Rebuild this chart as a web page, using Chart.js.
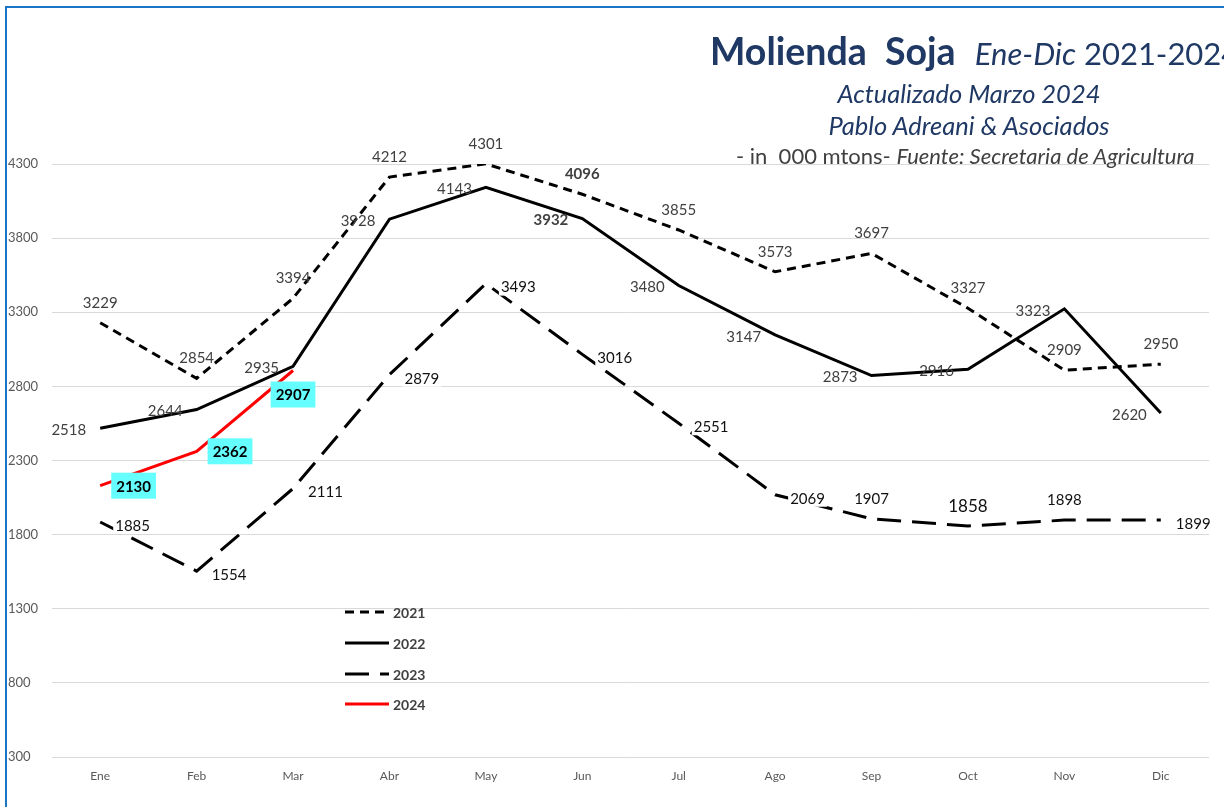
<!DOCTYPE html>
<html><head><meta charset="utf-8">
<script src="https://cdn.jsdelivr.net/npm/chart.js@4.4.1/dist/chart.umd.min.js"></script>
<style>
html,body{margin:0;padding:0;width:1224px;height:807px;overflow:hidden;background:#fff;font-family:Lato,sans-serif}
#wrap{position:relative;width:1224px;height:807px;overflow:hidden}
#c{position:absolute;left:0;top:0}
#frame{position:absolute;left:5px;top:6px;width:1240px;height:820px;border-left:2px solid #1b75c6;border-top:2px solid #1b75c6;pointer-events:none}
.t{position:absolute;white-space:nowrap;color:#1f3864}
</style></head><body>
<div id="wrap">
<canvas id="c" width="1224" height="807"></canvas>
<div id="frame"></div>
<div class="t" style="left:710px;top:26px;font-size:37.5px;line-height:50px"><b>Molienda&nbsp; Soja</b>&nbsp; <span style="font-size:31px"><i>Ene-Dic</i> 2021-2024</span></div>
<div class="t" style="left:719px;width:500px;text-align:center;top:77px;font-size:25.5px;line-height:32px;font-style:italic">Actualizado Marzo 2024</div>
<div class="t" style="left:719px;width:500px;text-align:center;top:109px;font-size:25.5px;line-height:32px;font-style:italic">Pablo Adreani &amp; Asociados</div>
<div class="t" style="left:736px;top:142px;font-size:22px;line-height:28px;color:#404040">- in&nbsp; 000 mtons- <i>Fuente: Secretaria de Agricultura</i></div>
</div>
<script>
// ---- data ----
const months = ['Ene','Feb','Mar','Abr','May','Jun','Jul','Ago','Sep','Oct','Nov','Dic'];
const y2021 = [3229,2854,3394,4212,4301,4096,3855,3573,3697,3327,2909,2950];
const y2022 = [2518,2644,2935,3928,4143,3932,3480,3147,2873,2916,3323,2620];
const y2023 = [1885,1554,2111,2879,3493,3016,2551,2069,1907,1858,1898,1899];
const y2024 = [2130,2362,2907];
const seriesNames = ['2021','2022','2023','2024'];
const yMin = 300, yMax = 4300, yStep = 500;

// ---- label styling (positions relative to points) ----
const pos2021 = ['above','above','above','above','above','above','above','above','above','above','above','above'];
const pos2022 = ['left','left','left','left','left','left','left','left','left','left','left','left'];
const pos2023 = ['right','right','right','right','right','right','right','right','above','above','above','right'];
const pos2024 = ['right','right','below'];
const bold2021 = [0,0,0,0,0,1,0,0,0,0,0,0];
const bold2022 = [0,0,0,0,0,1,0,0,0,0,0,0];
const size2023 = [15,15,15,15,15,15,15,15,15,17,15,15];

const labelCfg = [
  {pos:pos2021, bold:bold2021, color:'#404040', size:()=>15, bg:null},
  {pos:pos2022, bold:bold2022, color:'#404040', size:()=>15, bg:null},
  {pos:pos2023, bold:null, color:'#111111', size:(j)=>size2023[j], bg:'#ffffff'},
  {pos:pos2024, bold:[1,1,1], color:'#000000', size:()=>15, bg:'#66ffff', box:true}
];

const labelPlugin = {
  id:'vlabels',
  afterDatasetsDraw(chart){
    const ctx = chart.ctx;
    ctx.save();
    chart.data.datasets.forEach((ds,i)=>{
      const meta = chart.getDatasetMeta(i);
      const cfg = labelCfg[i];
      meta.data.forEach((pt,j)=>{
        const v = ds.data[j]; if(v==null) return;
        const txt = String(v);
        const b = cfg.bold && cfg.bold[j];
        const sz = cfg.size(j);
        ctx.font = (b?'bold ':'') + sz + 'px Lato';
        const tw = ctx.measureText(txt).width;
        let cx, cy; const p = cfg.pos[j];
        if(cfg.box){
          const w = tw+10, h = 26;
          if(p==='right'){ cx = pt.x+11+w/2; cy = pt.y; }
          else { cx = pt.x; cy = pt.y+24; }
          ctx.fillStyle = cfg.bg;
          ctx.fillRect(cx-w/2, cy-h/2, w, h);
        } else {
          if(p==='above'){ cx = pt.x; cy = pt.y-21; }
          else if(p==='left'){ cx = pt.x-14-tw/2; cy = pt.y+1; }
          else if(p==='right'){ cx = pt.x+15+tw/2; cy = pt.y+3; }
          if(cfg.bg){
            ctx.fillStyle = cfg.bg;
            ctx.fillRect(cx-tw/2-2, cy-sz*0.6, tw+4, sz*1.2);
          }
        }
        ctx.fillStyle = cfg.color;
        ctx.textAlign = 'center';
        ctx.textBaseline = 'middle';
        ctx.fillText(txt, cx, cy+1);
      });
    });
    ctx.restore();
  }
};

const legendX = 345, legendLen = 44, legendRows = [612,643,674,704];
const legendPlugin = {
  id:'floatLegend',
  afterDraw(chart){
    const ctx = chart.ctx;
    ctx.save();
    chart.data.datasets.forEach((ds,i)=>{
      const y = legendRows[i];
      ctx.strokeStyle = ds.borderColor;
      ctx.lineWidth = ds.borderWidth;
      ctx.setLineDash(ds.borderDash || []);
      ctx.beginPath(); ctx.moveTo(legendX, y); ctx.lineTo(legendX+legendLen, y); ctx.stroke();
      ctx.setLineDash([]);
      ctx.fillStyle = '#404040';
      ctx.font = 'bold 14px Lato';
      ctx.textAlign = 'left'; ctx.textBaseline = 'middle';
      ctx.fillText(ds.label, legendX+legendLen+4, y+1);
    });
    ctx.restore();
  }
};

Chart.defaults.font.family = 'Lato';
new Chart(document.getElementById('c'), {
  type:'line',
  data:{
    labels: months,
    datasets:[
      {label:seriesNames[0], data:y2021, borderColor:'#000', borderWidth:3, borderDash:[9,6], pointRadius:0, tension:0},
      {label:seriesNames[1], data:y2022, borderColor:'#000', borderWidth:3, pointRadius:0, tension:0},
      {label:seriesNames[2], data:y2023, borderColor:'#000', borderWidth:3, borderDash:[24,11], pointRadius:0, tension:0},
      {label:seriesNames[3], data:y2024, borderColor:'#ff0000', borderWidth:3, pointRadius:0, tension:0}
    ]
  },
  options:{
    responsive:false, animation:false,
    layout:{padding:{left:8,right:15,top:164,bottom:0}},
    plugins:{legend:{display:false}, tooltip:{enabled:false}, title:{display:false}},
    scales:{
      x:{
        offset:true,
        grid:{display:false, drawTicks:false},
        border:{display:false},
        ticks:{font:{size:12}, color:'#595959', padding:12, maxRotation:0},
        afterFit(s){ s.height = 50; }
      },
      y:{
        min:yMin, max:yMax,
        grid:{color:'#d9d9d9', drawTicks:false, lineWidth:1},
        border:{display:false},
        ticks:{stepSize:yStep, font:{size:13}, color:'#595959', crossAlign:'far', padding:0,
               callback:(v)=>String(v)},
        afterFit(s){ s.width = 44; }
      }
    }
  },
  plugins:[labelPlugin, legendPlugin]
});
</script>
</body></html>
